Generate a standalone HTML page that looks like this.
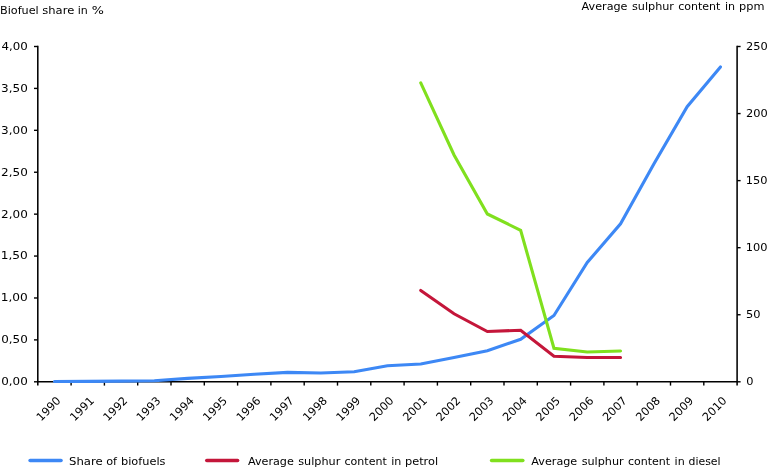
<!DOCTYPE html>
<html lang="en"><head><meta charset="utf-8"><title>Biofuel share and sulphur content</title>
<style>html,body{margin:0;padding:0;background:#fff;}body{width:768px;height:467px;overflow:hidden;}svg{display:block;}text{font-family:"DejaVu Sans", "Liberation Sans", sans-serif;font-size:11.25px;fill:#000;}</style></head><body>
<svg width="768" height="467" viewBox="0 0 768 467">
<rect width="768" height="467" fill="#fff"/>
<text y="13.95"><tspan x="-0.01" textLength="38.74" lengthAdjust="spacingAndGlyphs">Biofuel</tspan> <tspan x="42.32" textLength="31.95" lengthAdjust="spacingAndGlyphs">share</tspan> <tspan x="77.76" textLength="10.07" lengthAdjust="spacingAndGlyphs">in</tspan> <tspan x="91.86" textLength="12.18" lengthAdjust="spacingAndGlyphs">%</tspan></text>
<text y="10.35"><tspan x="581.60" textLength="45.91" lengthAdjust="spacingAndGlyphs">Average</tspan> <tspan x="631.94" textLength="42.06" lengthAdjust="spacingAndGlyphs">sulphur</tspan> <tspan x="678.20" textLength="42.25" lengthAdjust="spacingAndGlyphs">content</tspan> <tspan x="724.90" textLength="10.13" lengthAdjust="spacingAndGlyphs">in</tspan> <tspan x="739.08" textLength="25.37" lengthAdjust="spacingAndGlyphs">ppm</tspan></text>
<g stroke="#000" fill="none">
<line x1="37.8" y1="45.8" x2="37.8" y2="385.6" stroke-width="1.55"/>
<line x1="737.1" y1="45.8" x2="737.1" y2="385.6" stroke-width="1.55"/>
<line x1="37.8" y1="381.8" x2="737.1" y2="381.8" stroke-width="1.55"/>
<line x1="34.0" y1="381.80" x2="37.8" y2="381.80" stroke-width="1.4"/>
<line x1="34.0" y1="339.89" x2="37.8" y2="339.89" stroke-width="1.4"/>
<line x1="34.0" y1="297.98" x2="37.8" y2="297.98" stroke-width="1.4"/>
<line x1="34.0" y1="256.06" x2="37.8" y2="256.06" stroke-width="1.4"/>
<line x1="34.0" y1="214.15" x2="37.8" y2="214.15" stroke-width="1.4"/>
<line x1="34.0" y1="172.24" x2="37.8" y2="172.24" stroke-width="1.4"/>
<line x1="34.0" y1="130.32" x2="37.8" y2="130.32" stroke-width="1.4"/>
<line x1="34.0" y1="88.41" x2="37.8" y2="88.41" stroke-width="1.4"/>
<line x1="34.0" y1="46.50" x2="37.8" y2="46.50" stroke-width="1.4"/>
<line x1="737.1" y1="381.80" x2="740.6" y2="381.80" stroke-width="1.4"/>
<line x1="737.1" y1="314.74" x2="740.6" y2="314.74" stroke-width="1.4"/>
<line x1="737.1" y1="247.68" x2="740.6" y2="247.68" stroke-width="1.4"/>
<line x1="737.1" y1="180.62" x2="740.6" y2="180.62" stroke-width="1.4"/>
<line x1="737.1" y1="113.56" x2="740.6" y2="113.56" stroke-width="1.4"/>
<line x1="737.1" y1="46.50" x2="740.6" y2="46.50" stroke-width="1.4"/>
<line x1="71.10" y1="381.8" x2="71.10" y2="385.6" stroke-width="1.4"/>
<line x1="104.40" y1="381.8" x2="104.40" y2="385.6" stroke-width="1.4"/>
<line x1="137.70" y1="381.8" x2="137.70" y2="385.6" stroke-width="1.4"/>
<line x1="171.00" y1="381.8" x2="171.00" y2="385.6" stroke-width="1.4"/>
<line x1="204.30" y1="381.8" x2="204.30" y2="385.6" stroke-width="1.4"/>
<line x1="237.60" y1="381.8" x2="237.60" y2="385.6" stroke-width="1.4"/>
<line x1="270.90" y1="381.8" x2="270.90" y2="385.6" stroke-width="1.4"/>
<line x1="304.20" y1="381.8" x2="304.20" y2="385.6" stroke-width="1.4"/>
<line x1="337.50" y1="381.8" x2="337.50" y2="385.6" stroke-width="1.4"/>
<line x1="370.80" y1="381.8" x2="370.80" y2="385.6" stroke-width="1.4"/>
<line x1="404.10" y1="381.8" x2="404.10" y2="385.6" stroke-width="1.4"/>
<line x1="437.40" y1="381.8" x2="437.40" y2="385.6" stroke-width="1.4"/>
<line x1="470.70" y1="381.8" x2="470.70" y2="385.6" stroke-width="1.4"/>
<line x1="504.00" y1="381.8" x2="504.00" y2="385.6" stroke-width="1.4"/>
<line x1="537.30" y1="381.8" x2="537.30" y2="385.6" stroke-width="1.4"/>
<line x1="570.60" y1="381.8" x2="570.60" y2="385.6" stroke-width="1.4"/>
<line x1="603.90" y1="381.8" x2="603.90" y2="385.6" stroke-width="1.4"/>
<line x1="637.20" y1="381.8" x2="637.20" y2="385.6" stroke-width="1.4"/>
<line x1="670.50" y1="381.8" x2="670.50" y2="385.6" stroke-width="1.4"/>
<line x1="703.80" y1="381.8" x2="703.80" y2="385.6" stroke-width="1.4"/>
</g>
<text transform="translate(1.18,385.10) scale(1.0623,1)">0,00</text>
<text transform="translate(1.18,343.23) scale(1.0623,1)">0,50</text>
<text transform="translate(0.68,301.35) scale(1.0829,1)">1,00</text>
<text transform="translate(0.68,259.48) scale(1.0829,1)">1,50</text>
<text transform="translate(1.06,217.60) scale(1.0673,1)">2,00</text>
<text transform="translate(1.06,175.73) scale(1.0673,1)">2,50</text>
<text transform="translate(1.06,133.85) scale(1.0673,1)">3,00</text>
<text transform="translate(1.06,91.98) scale(1.0673,1)">3,50</text>
<text transform="translate(1.43,50.10) scale(1.0522,1)">4,00</text>
<text transform="translate(746.22,385.10) scale(1.0120,1)">0</text>
<text transform="translate(746.10,318.10) scale(1.0120,1)">50</text>
<text transform="translate(745.76,251.10) scale(1.0120,1)">100</text>
<text transform="translate(745.76,184.10) scale(1.0120,1)">150</text>
<text transform="translate(746.10,117.10) scale(1.0120,1)">200</text>
<text transform="translate(746.10,50.10) scale(1.0120,1)">250</text>
<text transform="translate(61.45,401.40) rotate(-45) scale(1.0060,1)" text-anchor="end">1990</text>
<text transform="translate(94.75,401.40) rotate(-45) scale(1.0060,1)" text-anchor="end">1991</text>
<text transform="translate(128.05,401.40) rotate(-45) scale(1.0060,1)" text-anchor="end">1992</text>
<text transform="translate(161.35,401.40) rotate(-45) scale(1.0060,1)" text-anchor="end">1993</text>
<text transform="translate(194.65,401.40) rotate(-45) scale(1.0060,1)" text-anchor="end">1994</text>
<text transform="translate(227.95,401.40) rotate(-45) scale(1.0060,1)" text-anchor="end">1995</text>
<text transform="translate(261.25,401.40) rotate(-45) scale(1.0060,1)" text-anchor="end">1996</text>
<text transform="translate(294.55,401.40) rotate(-45) scale(1.0060,1)" text-anchor="end">1997</text>
<text transform="translate(327.85,401.40) rotate(-45) scale(1.0060,1)" text-anchor="end">1998</text>
<text transform="translate(361.15,401.40) rotate(-45) scale(1.0060,1)" text-anchor="end">1999</text>
<text transform="translate(394.45,401.40) rotate(-45) scale(1.0060,1)" text-anchor="end">2000</text>
<text transform="translate(427.75,401.40) rotate(-45) scale(1.0060,1)" text-anchor="end">2001</text>
<text transform="translate(461.05,401.40) rotate(-45) scale(1.0060,1)" text-anchor="end">2002</text>
<text transform="translate(494.35,401.40) rotate(-45) scale(1.0060,1)" text-anchor="end">2003</text>
<text transform="translate(527.65,401.40) rotate(-45) scale(1.0060,1)" text-anchor="end">2004</text>
<text transform="translate(560.95,401.40) rotate(-45) scale(1.0060,1)" text-anchor="end">2005</text>
<text transform="translate(594.25,401.40) rotate(-45) scale(1.0060,1)" text-anchor="end">2006</text>
<text transform="translate(627.55,401.40) rotate(-45) scale(1.0060,1)" text-anchor="end">2007</text>
<text transform="translate(660.85,401.40) rotate(-45) scale(1.0060,1)" text-anchor="end">2008</text>
<text transform="translate(694.15,401.40) rotate(-45) scale(1.0060,1)" text-anchor="end">2009</text>
<text transform="translate(727.45,401.40) rotate(-45) scale(1.0060,1)" text-anchor="end">2010</text>
<g fill="none" stroke-width="3.1" stroke-linecap="round" stroke-linejoin="miter">
<polyline stroke="#3d88f5" points="54.45,381.45 87.75,381.40 121.05,381.10 154.35,380.75 187.65,378.40 220.95,376.45 254.25,374.30 287.55,372.40 320.85,373.00 354.15,371.75 387.45,365.75 420.75,364.00 454.05,357.50 487.35,350.75 520.65,339.25 553.95,315.50 587.25,262.50 620.55,223.75 653.85,164.00 687.15,106.70 720.45,66.90"/>
<polyline stroke="#c4163a" points="420.75,290.50 454.05,313.75 487.35,331.50 520.65,330.25 553.95,356.25 587.25,357.50 620.55,357.50"/>
<polyline stroke="#80e01e" points="420.75,82.80 454.05,155.00 487.35,214.00 520.65,230.30 553.95,348.25 587.25,352.00 620.55,351.00"/>
</g>
<g fill="none" stroke-width="3.6" stroke-linecap="round">
<line stroke="#3d88f5" x1="30.10" y1="460.45" x2="61.00" y2="460.45"/>
<line stroke="#c4163a" x1="206.80" y1="460.45" x2="237.60" y2="460.45"/>
<line stroke="#80e01e" x1="491.60" y1="460.45" x2="522.80" y2="460.45"/>
</g>
<text y="464.80"><tspan x="69.05" textLength="33.73" lengthAdjust="spacingAndGlyphs">Share</tspan> <tspan x="106.24" textLength="10.85" lengthAdjust="spacingAndGlyphs">of</tspan> <tspan x="120.98" textLength="44.48" lengthAdjust="spacingAndGlyphs">biofuels</tspan></text>
<text y="464.80"><tspan x="247.90" textLength="45.91" lengthAdjust="spacingAndGlyphs">Average</tspan> <tspan x="298.24" textLength="42.06" lengthAdjust="spacingAndGlyphs">sulphur</tspan> <tspan x="344.50" textLength="42.25" lengthAdjust="spacingAndGlyphs">content</tspan> <tspan x="391.20" textLength="10.13" lengthAdjust="spacingAndGlyphs">in</tspan> <tspan x="404.98" textLength="33.12" lengthAdjust="spacingAndGlyphs">petrol</tspan></text>
<text y="464.80"><tspan x="531.30" textLength="45.91" lengthAdjust="spacingAndGlyphs">Average</tspan> <tspan x="581.64" textLength="42.06" lengthAdjust="spacingAndGlyphs">sulphur</tspan> <tspan x="627.90" textLength="42.25" lengthAdjust="spacingAndGlyphs">content</tspan> <tspan x="674.60" textLength="10.13" lengthAdjust="spacingAndGlyphs">in</tspan> <tspan x="688.56" textLength="32.00" lengthAdjust="spacingAndGlyphs">diesel</tspan></text>
</svg></body></html>
